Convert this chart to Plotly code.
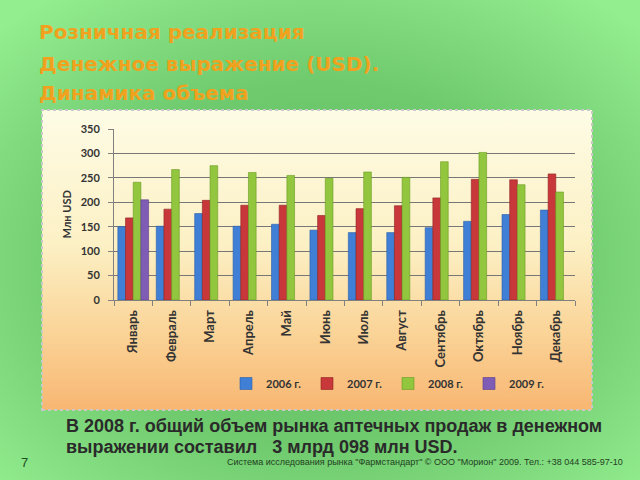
import base64
import plotly.graph_objects as go

months = ["Январь", "Февраль", "Март", "Апрель", "Май", "Июнь", "Июль",
          "Август", "Сентябрь", "Октябрь", "Ноябрь", "Декабрь"]
y2006 = [150, 151, 177, 151, 155, 143, 138, 138, 148, 161, 175, 184]
y2007 = [168, 186, 204, 194, 194, 173, 187, 193, 209, 247, 246, 258]
y2008 = [241, 267, 275, 261, 255, 249, 262, 251, 283, 302, 236, 221]
y2009 = [205, None, None, None, None, None, None, None, None, None, None, None]
series_names = ["2006 г.", "2007 г.", "2008 г.", "2009 г."]
y_ticks = [0, 50, 100, 150, 200, 250, 300, 350]

W, H = 640, 480


def px(x):
    return x / W


def py(y):
    return 1 - y / H


def svg_uri(svg):
    return "data:image/svg+xml;base64," + base64.b64encode(svg.encode("utf-8")).decode()


bg_svg = ('<svg xmlns="http://www.w3.org/2000/svg" width="640" height="480" viewBox="0 0 640 480" '
          'preserveAspectRatio="none"><defs><radialGradient id="g" cx="50%" cy="55%" r="70%">'
          '<stop offset="0" stop-color="#5cb65c"/><stop offset="0.55" stop-color="#70ca6e"/>'
          '<stop offset="1" stop-color="#93ee90"/></radialGradient></defs>'
          '<rect width="640" height="480" fill="url(#g)"/></svg>')

panel_svg = ('<svg xmlns="http://www.w3.org/2000/svg" width="550" height="300" viewBox="0 0 550 300" '
             'preserveAspectRatio="none"><defs><linearGradient id="p" x1="0" y1="0" x2="0" y2="1">'
             '<stop offset="0" stop-color="#fefce6"/><stop offset="0.45" stop-color="#fcf0c4"/>'
             '<stop offset="0.75" stop-color="#fad396"/><stop offset="1" stop-color="#f8b672"/>'
             '</linearGradient></defs><rect width="550" height="300" fill="url(#p)"/></svg>')

colors = ["#3f7fd6", "#c8383a", "#92c63e", "#7f5db5"]
edges = ["#2a5ea8", "#8e2224", "#6a9a22", "#5a3d8a"]
data = [y2006, y2007, y2008, y2009]

fig = go.Figure()
for name, vals, c, e in zip(series_names, data, colors, edges):
    fig.add_trace(go.Bar(x=months, y=vals, name=name,
                         marker=dict(color=c, line=dict(color=e, width=0.6))))

chart_font = "Lato, 'Open Sans', sans-serif"

fig.update_layout(
    width=W, height=H,
    margin=dict(l=0, r=0, t=0, b=0),
    paper_bgcolor="#7fd67c",
    plot_bgcolor="rgba(0,0,0,0)",
    barmode="group", bargap=0.2, bargroupgap=0,
    showlegend=True,
    legend=dict(orientation="h", x=px(226), y=py(369), xanchor="left", yanchor="top",
                font=dict(family=chart_font, size=11, color="#333333", weight="bold"),
                bgcolor="rgba(0,0,0,0)", entrywidth=36, entrywidthmode="pixels",
                itemwidth=30, traceorder="normal"),
    xaxis=dict(domain=[px(114), px(575)], tickangle=-90, automargin=False,
               tickfont=dict(family=chart_font, size=13, color="#333333", weight="bold"),
               ticks="outside", tickson="boundaries", ticklen=5, tickcolor="#808080",
               ticklabelstandoff=4,
               showline=True, linecolor="#808080", linewidth=1, showgrid=False),
    yaxis=dict(domain=[py(300), py(129)], range=[0, 350], tickvals=y_ticks, automargin=False,
               tickfont=dict(family=chart_font, size=11, color="#333333", weight="bold"),
               ticks="outside", ticklen=5, tickcolor="#808080", ticklabelstandoff=6,
               showline=True, linecolor="#808080", linewidth=1,
               showgrid=True, gridcolor="#777777", gridwidth=1, zeroline=False),
    images=[
        dict(source=svg_uri(bg_svg), xref="paper", yref="paper", x=0, y=1, sizex=1, sizey=1,
             xanchor="left", yanchor="top", sizing="stretch", layer="below"),
        dict(source=svg_uri(panel_svg), xref="paper", yref="paper", x=px(42), y=py(110),
             sizex=px(592) - px(42), sizey=py(110) - py(410),
             xanchor="left", yanchor="top", sizing="stretch", layer="below"),
    ],
    shapes=[
        dict(type="rect", xref="paper", yref="paper", x0=px(42), x1=px(592), y0=py(410), y1=py(110),
             line=dict(color="#c8c8c8", width=2, dash="dot"), layer="below"),
    ],
)

title_font = dict(family="'DejaVu Sans', sans-serif", size=20, color="#f0a21e")
for txt, yy in [("<b>Розничная реализация</b>", 32), ("<b>Денежное выражение (USD).</b>", 64),
                ("<b>Динамика объема</b>", 93)]:
    fig.add_annotation(text=txt, x=px(37), y=py(yy), xref="paper", yref="paper",
                       xanchor="left", yanchor="middle", showarrow=False, font=title_font)

fig.add_annotation(text="<b>Млн USD</b>", x=px(57), y=py(215), xref="paper", yref="paper",
                   textangle=-90, showarrow=False,
                   font=dict(family=chart_font, size=11, color="#333333"))

body_font = dict(family="'Liberation Sans', Arial, sans-serif", size=18, color="#2a2a2a")
fig.add_annotation(text="<b>В 2008 г. общий объем рынка аптечных продаж в денежном</b>",
                   x=px(64), y=py(426), xref="paper", yref="paper", xanchor="left",
                   yanchor="middle", showarrow=False, font=body_font)
fig.add_annotation(text="<b>выражении составил   3 млрд 098 млн USD.</b>",
                   x=px(64), y=py(447), xref="paper", yref="paper", xanchor="left",
                   yanchor="middle", showarrow=False, font=body_font)

fig.add_annotation(text="Система исследования рынка \"Фармстандарт\" © ООО \"Морион\" 2009. Тел.: +38 044 585-97-10",
                   x=px(625), y=py(462), xref="paper", yref="paper", xanchor="right",
                   yanchor="middle", showarrow=False,
                   font=dict(family="'Liberation Sans Narrow', 'Liberation Sans', Arial, sans-serif",
                             size=9, color="#1f3f1f"))
fig.add_annotation(text="7", x=px(19), y=py(462), xref="paper", yref="paper", xanchor="left",
                   yanchor="middle", showarrow=False,
                   font=dict(family="'Liberation Sans', Arial, sans-serif", size=13, color="#1f4f1f"))

fig.write_html("out.html")
